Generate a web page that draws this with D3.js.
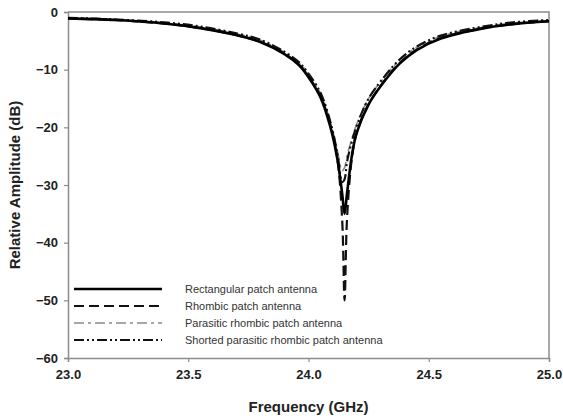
<!DOCTYPE html>
<html>
<head>
<meta charset="utf-8">
<script src="https://cdn.jsdelivr.net/npm/d3@7"></script>
<style>
  body { margin: 0; background: #fff; }
  svg { display: block; font-family: "Liberation Sans", Arial, sans-serif; }
</style>
</head>
<body>
<main></main>
<script>
const width = 563;
const height = 418;

// frequency points (GHz), denser around the resonance
const freq = [23.0, 23.2, 23.4, 23.55, 23.7, 23.8, 23.9, 23.96, 24.0, 24.05, 24.09, 24.12, 24.14, 24.15,
  24.16, 24.18, 24.2, 24.25, 24.31, 24.38, 24.45, 24.55, 24.73, 24.85, 25.0];

const rectangular = [-1.1, -1.4, -2.0, -2.8, -4.0, -5.2, -7.3, -9.2, -11.3, -14.8, -19.8, -25.5, -31.5, -35,
  -31.5, -25, -21, -16, -12.3, -8.9, -6.6, -4.6, -2.8, -2.1, -1.6];
const rhombic = [-1.1, -1.4, -2.0, -2.8, -4.0, -5.2, -7.2, -9.1, -11.2, -14.6, -19.5, -25.5, -36, -50,
  -36, -25.5, -21, -16, -12.2, -8.8, -6.5, -4.5, -2.8, -2.1, -1.6];
const parasitic = [-1.0, -1.3, -1.9, -2.6, -3.8, -4.9, -7.0, -8.8, -10.8, -14.1, -19, -24, -27.5, -27,
  -25, -22, -19.5, -15, -11.6, -8.3, -6.1, -4.2, -2.6, -1.9, -1.5];
const shorted = [-1.0, -1.3, -1.8, -2.5, -3.7, -4.8, -6.9, -8.7, -10.7, -14.0, -18.9, -24.5, -29.5, -29,
  -26, -22.5, -19.8, -15, -11.5, -8.2, -6.0, -4.1, -2.5, -1.8, -1.4];

const seriesNames = [
  "Rectangular patch antenna",
  "Rhombic patch antenna",
  "Parasitic rhombic patch antenna",
  "Shorted parasitic rhombic patch antenna",
];
const seriesValues = [rectangular, rhombic, parasitic, shorted];
const styles = [
  { color: "#000", width: 2.6, dash: null },
  { color: "#111", width: 2.2, dash: "10,5" },
  { color: "#8a8a8a", width: 1.6, dash: "10,4,3,4" },
  { color: "#111", width: 2.2, dash: "10,3,2,3,2,3" },
];

const xTicks = [23.0, 23.5, 24.0, 24.5, 25.0];
const yTicks = [0, -10, -20, -30, -40, -50, -60];

const margin = { top: 12, right: 14, bottom: 60, left: 68 };

const svg = d3.select("main").append("svg")
  .attr("width", width)
  .attr("height", height);

const x = d3.scaleLinear().domain([23, 25]).range([margin.left, width - margin.right]);
const y = d3.scaleLinear().domain([-60, 0]).range([height - margin.bottom, margin.top]);

// frame (top and right)
svg.append("path")
  .attr("d", `M${x(23)},${y(0)}H${x(25)}V${y(-60)}`)
  .attr("fill", "none")
  .attr("stroke", "#8c8c8c")
  .attr("stroke-width", 1.5);

const xAxis = svg.append("g")
  .attr("transform", `translate(0, ${y(-60)})`)
  .call(d3.axisBottom(x).tickValues(xTicks).tickFormat(d3.format(".1f")).tickSize(4).tickPadding(8));

const yAxis = svg.append("g")
  .attr("transform", `translate(${x(23)}, 0)`)
  .call(d3.axisLeft(y).tickValues(yTicks).tickSize(4).tickPadding(6));

[xAxis, yAxis].forEach((ax) => {
  ax.select(".domain").attr("stroke", "#8c8c8c").attr("stroke-width", 1.5);
  ax.selectAll(".tick line").attr("stroke", "#8c8c8c").attr("stroke-width", 1.2);
  ax.selectAll("text")
    .attr("fill", "#222")
    .attr("font-size", 13)
    .attr("font-weight", "bold")
    .attr("font-family", "Liberation Sans, Arial, sans-serif");
});

// axis titles
svg.append("text")
  .attr("x", (x(23) + x(25)) / 2)
  .attr("y", 412)
  .attr("text-anchor", "middle")
  .attr("font-size", 15)
  .attr("font-weight", "bold")
  .attr("fill", "#222")
  .text("Frequency (GHz)");

svg.append("text")
  .attr("transform", `translate(20, ${(y(0) + y(-60)) / 2}) rotate(-90)`)
  .attr("text-anchor", "middle")
  .attr("font-size", 15)
  .attr("font-weight", "bold")
  .attr("fill", "#222")
  .text("Relative Amplitude (dB)");

// curves
const line = d3.line()
  .x((d) => x(d[0]))
  .y((d) => y(d[1]))
  .curve(d3.curveCatmullRom.alpha(0.5));

const plot = svg.append("g");
// draw gray first so the dark lines sit over it
[2, 3, 1, 0].forEach((i) => {
  plot.append("path")
    .datum(freq.map((f, j) => [f, seriesValues[i][j]]))
    .attr("d", line)
    .attr("fill", "none")
    .attr("stroke", styles[i].color)
    .attr("stroke-width", styles[i].width)
    .attr("stroke-dasharray", styles[i].dash);
});

// legend
const legend = svg.append("g").attr("transform", "translate(74, 289)");
seriesNames.forEach((name, i) => {
  const row = legend.append("g").attr("transform", `translate(0, ${i * 17})`);
  row.append("line")
    .attr("x1", 0).attr("x2", 88)
    .attr("stroke", styles[i].color)
    .attr("stroke-width", styles[i].width)
    .attr("stroke-dasharray", styles[i].dash);
  row.append("text")
    .attr("x", 111)
    .attr("y", 4)
    .attr("font-size", 11)
    .attr("fill", "#333")
    .text(name);
});
</script>
</body>
</html>
